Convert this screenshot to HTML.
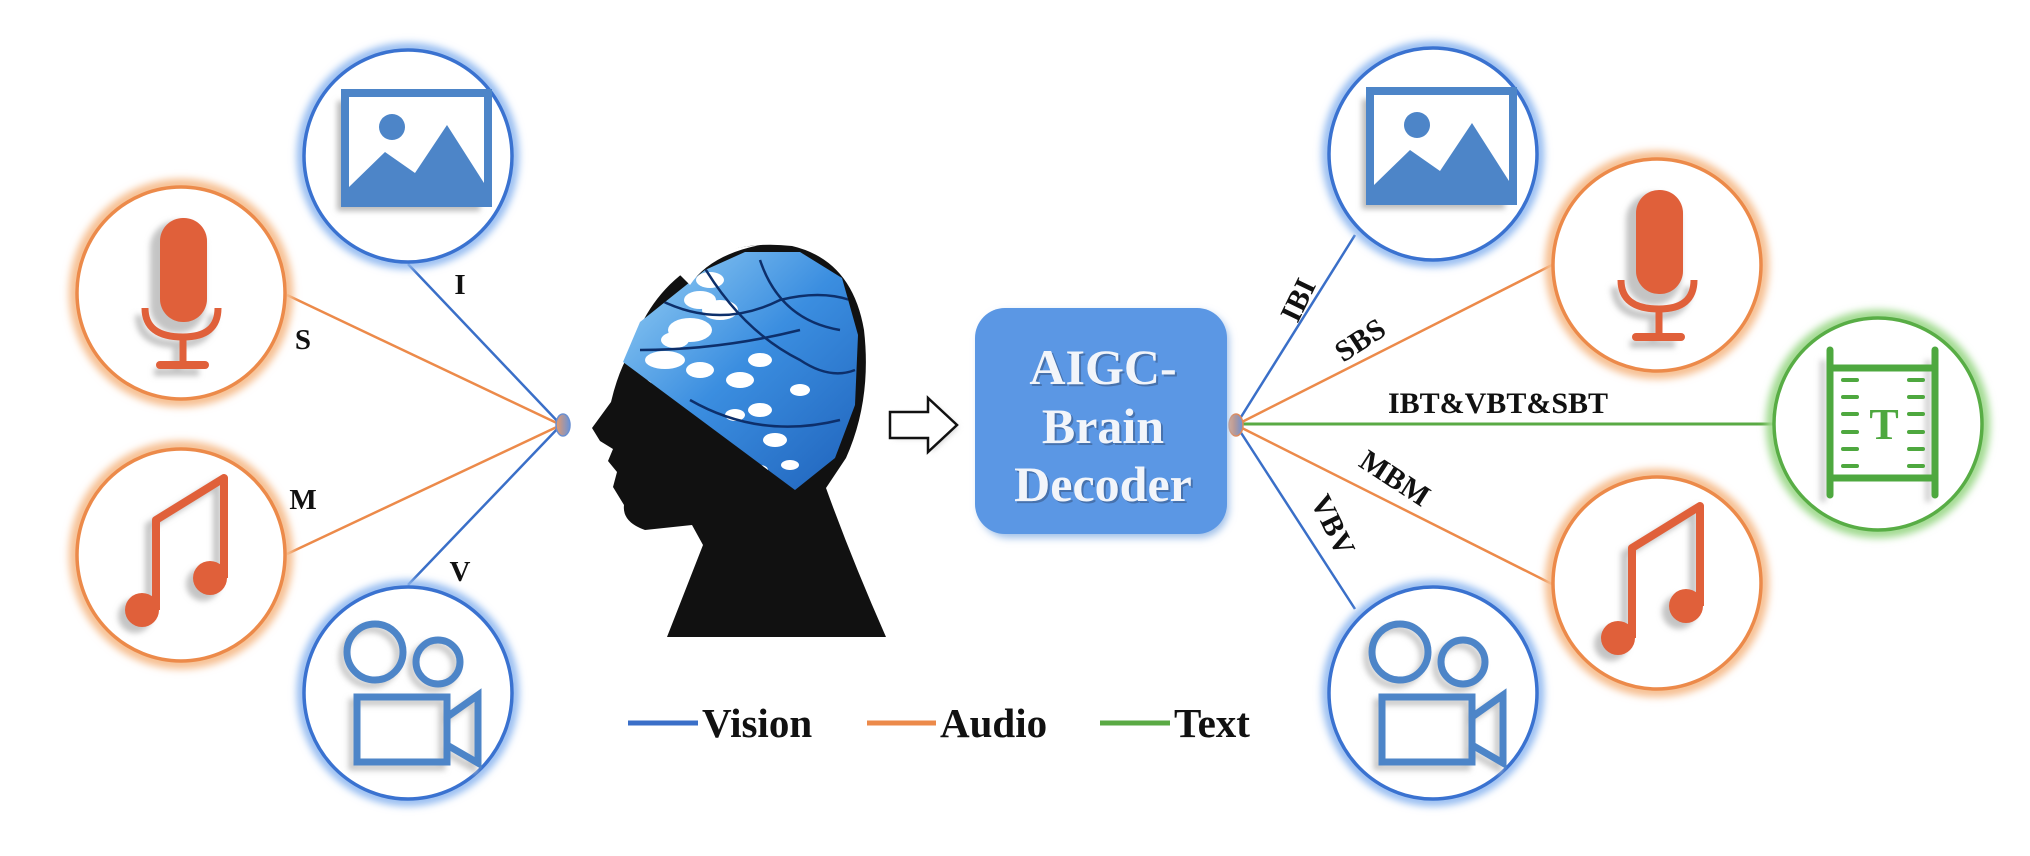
<!DOCTYPE html>
<html><head><meta charset="utf-8">
<style>
html,body{margin:0;padding:0;background:#fff;}
svg{display:block;}
text{font-family:"Liberation Serif",serif;font-weight:bold;}
</style></head>
<body>
<svg width="2030" height="856" viewBox="0 0 2030 856" xmlns="http://www.w3.org/2000/svg">
<defs>
<filter id="glow" x="-30%" y="-30%" width="160%" height="160%"><feGaussianBlur stdDeviation="4"/></filter>
<filter id="sh" x="-20%" y="-20%" width="140%" height="140%"><feGaussianBlur stdDeviation="3"/></filter>
<linearGradient id="nodeg" x1="0" x2="1"><stop offset="0" stop-color="#e89a6a"/><stop offset="1" stop-color="#6a93d8"/></linearGradient>
<linearGradient id="brain" x1="0" y1="0" x2="1" y2="1"><stop offset="0" stop-color="#a8dcf8"/><stop offset="0.5" stop-color="#3b8ee0"/><stop offset="1" stop-color="#1d5fb8"/></linearGradient>
<clipPath id="bclip"><path d="M623,362 L640,322 L680,290 L705,270 L745,252 L800,252 L842,278 L858,335 L855,405 L835,458 L795,490 Z"/></clipPath>

<g id="cblue"><ellipse cx="0" cy="0" rx="106" ry="108" fill="none" stroke="#8fb8f0" stroke-width="10" filter="url(#glow)"/><ellipse cx="0" cy="0" rx="104" ry="106" fill="#fff" stroke="#3a72d0" stroke-width="3.5"/></g>
<g id="corange"><ellipse cx="0" cy="0" rx="106" ry="108" fill="none" stroke="#f6bd8e" stroke-width="12" filter="url(#glow)"/><ellipse cx="0" cy="0" rx="104" ry="106" fill="#fff" stroke="#ec8a4a" stroke-width="3.5"/></g>
<g id="cgreen"><ellipse cx="0" cy="0" rx="106" ry="108" fill="none" stroke="#9ed98c" stroke-width="12" filter="url(#glow)"/><ellipse cx="0" cy="0" rx="104" ry="106" fill="#fff" stroke="#58ad45" stroke-width="3.5"/></g>

<g id="img">
<use href="#cblue"/>
<rect x="-71" y="-55" width="143" height="110" fill="#bbbbbb" filter="url(#sh)"/>
<rect x="-63" y="-63" width="143" height="110" fill="#fff" stroke="#4d85c8" stroke-width="8"/>
<circle cx="-16" cy="-29" r="13" fill="#4d85c8"/>
<path d="M-59,47 L-59,31 L-23,-4 L7,17 L39,-31 L76,27 L76,47 Z" fill="#4d85c8"/>
</g>
<g id="mic">
<use href="#corange"/>
<g transform="translate(-6,7)" fill="none" stroke="#c4c4c4" stroke-width="8" filter="url(#sh)"><rect x="-21" y="-75" width="47" height="104" rx="23" fill="#c4c4c4"/><path d="M-36,15 Q-36,44 2,44 Q37,44 37,15"/><line x1="2" y1="44" x2="2" y2="72"/><line x1="-21" y1="72" x2="24" y2="72"/></g>
<rect x="-21" y="-75" width="47" height="104" rx="23" fill="#e0603a"/>
<g fill="none" stroke="#e0603a" stroke-width="7"><path d="M-36,15 Q-36,44 2,44 Q37,44 37,15"/><line x1="2" y1="44" x2="2" y2="72"/></g>
<line x1="-21" y1="72" x2="24" y2="72" stroke="#e0603a" stroke-width="8" stroke-linecap="round"/>
</g>
<g id="music">
<use href="#corange"/>
<g transform="translate(-7,6)" filter="url(#sh)"><circle cx="-39" cy="55" r="17" fill="#c4c4c4"/><circle cx="29" cy="23" r="17" fill="#c4c4c4"/><path d="M-25,55 L-25,-35 L43,-77 L43,23" fill="none" stroke="#c4c4c4" stroke-width="8"/></g>
<circle cx="-39" cy="55" r="17" fill="#e0603a"/><circle cx="29" cy="23" r="17" fill="#e0603a"/>
<path d="M-25,55 L-25,-35 L43,-77 L43,23" fill="none" stroke="#e0603a" stroke-width="8" stroke-linejoin="round"/>
</g>
<g id="video">
<use href="#cblue"/>
<g transform="translate(-5,5)" fill="none" stroke="#c8c8c8" stroke-width="7" filter="url(#sh)"><circle cx="-33" cy="-41" r="28"/><circle cx="30" cy="-31" r="22"/><rect x="-51" y="4" width="90" height="65"/><path d="M39,24 L70,2 L70,70 L39,52"/></g>
<g fill="none" stroke="#4d85c8" stroke-width="7"><circle cx="-33" cy="-41" r="28"/><circle cx="30" cy="-31" r="22"/><rect x="-51" y="4" width="90" height="65"/><path d="M39,24 L70,2 L70,70 L39,52"/></g>
</g>
<g id="txt">
<use href="#cgreen"/>
<g stroke="#cfcfcf" stroke-width="6" filter="url(#sh)"><line x1="-55" y1="-64" x2="-55" y2="78"/><line x1="50" y1="-64" x2="50" y2="78"/></g>
<g stroke="#4ea83f" stroke-width="7" stroke-linecap="round"><line x1="-48" y1="-74" x2="-48" y2="71"/><line x1="57" y1="-74" x2="57" y2="71"/><line x1="-48" y1="-56" x2="57" y2="-56"/><line x1="-48" y1="54" x2="57" y2="54"/></g>
<g stroke="#4ea83f" stroke-width="4" stroke-linecap="round">
<line x1="-35" y1="-44" x2="-21" y2="-44"/><line x1="-35" y1="-27" x2="-21" y2="-27"/><line x1="-35" y1="-10" x2="-21" y2="-10"/><line x1="-35" y1="8" x2="-21" y2="8"/><line x1="-35" y1="25" x2="-21" y2="25"/><line x1="-35" y1="42" x2="-21" y2="42"/>
<line x1="31" y1="-44" x2="45" y2="-44"/><line x1="31" y1="-27" x2="45" y2="-27"/><line x1="31" y1="-10" x2="45" y2="-10"/><line x1="31" y1="8" x2="45" y2="8"/><line x1="31" y1="25" x2="45" y2="25"/><line x1="31" y1="42" x2="45" y2="42"/>
</g>
<text x="6" y="15" text-anchor="middle" font-size="44" fill="#4ea83f">T</text>
</g>
</defs>

<g stroke-width="2.5" fill="none">
<line x1="561" y1="425" x2="408" y2="264" stroke="#3a6fc8"/>
<line x1="561" y1="425" x2="408" y2="585" stroke="#3a6fc8"/>
<line x1="561" y1="425" x2="287" y2="295" stroke="#ec8a4a"/>
<line x1="561" y1="425" x2="287" y2="554" stroke="#ec8a4a"/>
</g>
<g stroke-width="2.5" fill="none">
<line x1="1236" y1="425" x2="1355" y2="235" stroke="#3a6fc8"/>
<line x1="1236" y1="425" x2="1355" y2="609" stroke="#3a6fc8"/>
<line x1="1236" y1="425" x2="1552" y2="265" stroke="#ec8a4a"/>
<line x1="1236" y1="425" x2="1552" y2="584" stroke="#ec8a4a"/>
<line x1="1236" y1="424" x2="1774" y2="424" stroke="#5aaa44" stroke-width="3"/>
</g>

<use href="#img" x="408" y="156"/>
<use href="#mic" x="181" y="293"/>
<use href="#music" x="181" y="555"/>
<use href="#video" x="408" y="693"/>

<use href="#img" x="1433" y="154"/>
<use href="#mic" x="1657" y="265"/>
<use href="#txt" x="1878" y="424"/>
<use href="#music" x="1657" y="583"/>
<use href="#video" x="1433" y="693"/>

<ellipse cx="563" cy="425" rx="7" ry="11" fill="url(#nodeg)" stroke="#6a8fd0" stroke-width="1.5"/>
<ellipse cx="1236" cy="425" rx="7" ry="11" fill="url(#nodeg)" stroke="#e08a5a" stroke-width="1.5"/>

<g font-size="29" fill="#111" text-anchor="middle">
<text x="460" y="294">I</text>
<text x="303" y="349">S</text>
<text x="303" y="509">M</text>
<text x="460" y="581">V</text>
</g>
<g font-size="30" fill="#111" text-anchor="middle">
<text transform="translate(1298,300) rotate(-64)" y="10">IBI</text>
<text transform="translate(1360,340) rotate(-33)" y="10">SBS</text>
<text x="1498" y="413">IBT&amp;VBT&amp;SBT</text>
<text transform="translate(1395,478) rotate(33)" y="10">MBM</text>
<text transform="translate(1333,525) rotate(64)" y="10">VBV</text>
</g>

<path d="M667,637 L703,545 L692,525 L645,530 Q622,522 624,505 L613,487 L617,472 L608,461 L613,449 L600,441 L592,428 L611,402 Q618,372 630,352 Q650,290 700,262 Q740,240 792,246 Q852,260 864,330 Q872,400 846,458 L826,488 Q852,560 886,637 Z" fill="#111"/>
<g clip-path="url(#bclip)">
<rect x="600" y="240" width="270" height="260" fill="url(#brain)"/>
<g fill="#fff">
<ellipse cx="690" cy="330" rx="22" ry="12"/><ellipse cx="665" cy="360" rx="20" ry="9"/><ellipse cx="720" cy="310" rx="18" ry="10"/>
<ellipse cx="700" cy="370" rx="14" ry="8"/><ellipse cx="740" cy="380" rx="14" ry="8"/><ellipse cx="760" cy="410" rx="12" ry="7"/>
<ellipse cx="775" cy="440" rx="12" ry="7"/><ellipse cx="735" cy="415" rx="10" ry="6"/><ellipse cx="790" cy="465" rx="9" ry="5"/>
<ellipse cx="760" cy="470" rx="8" ry="5"/><ellipse cx="640" cy="385" rx="12" ry="6"/><ellipse cx="760" cy="360" rx="12" ry="7"/>
<ellipse cx="710" cy="280" rx="14" ry="8"/><ellipse cx="800" cy="390" rx="10" ry="6"/>
<ellipse cx="700" cy="300" rx="16" ry="9"/><ellipse cx="675" cy="340" rx="14" ry="8"/>
</g>
<g fill="none" stroke="#0d2f6b" stroke-width="2.5">
<path d="M660,300 Q720,330 780,300 Q820,290 850,300"/><path d="M640,350 Q720,350 800,330"/><path d="M700,260 Q740,330 800,360 Q830,380 855,370"/><path d="M760,260 Q780,320 840,330"/><path d="M690,400 Q760,440 840,420"/>
</g>
</g>
<path d="M680,275 Q700,250 760,245 Q710,255 690,285 Z" fill="#fff"/>

<path d="M894,416 L931,416 L931,402 L958,427 L931,452 L931,438 L894,438 Z" fill="#ccc" filter="url(#sh)"/>
<path d="M890,412 L928,412 L928,398 L957,425 L928,452 L928,438 L890,438 Z" fill="#fff" stroke="#111" stroke-width="2.5"/>

<rect x="979" y="312" width="250" height="226" rx="30" fill="#9fbfe8" filter="url(#glow)"/>
<rect x="975" y="308" width="252" height="226" rx="30" fill="#5b97e4"/>
<g font-size="50" text-anchor="middle">
<g fill="#3a5a8a" transform="translate(2,2)" opacity="0.6"><text x="1103" y="384">AIGC-</text><text x="1103" y="443">Brain</text><text x="1103" y="501">Decoder</text></g>
<g fill="#f2f5fa"><text x="1103" y="384">AIGC-</text><text x="1103" y="443">Brain</text><text x="1103" y="501">Decoder</text></g>
</g>

<g stroke-width="5">
<line x1="628" y1="723" x2="698" y2="723" stroke="#3a6fc8"/>
<line x1="867" y1="723" x2="936" y2="723" stroke="#ec8a4a"/>
<line x1="1100" y1="723" x2="1170" y2="723" stroke="#5aaa44"/>
</g>
<g font-size="41" fill="#111">
<text x="702" y="737">Vision</text>
<text x="940" y="737">Audio</text>
<text x="1174" y="737">Text</text>
</g>
</svg>
</body></html>
